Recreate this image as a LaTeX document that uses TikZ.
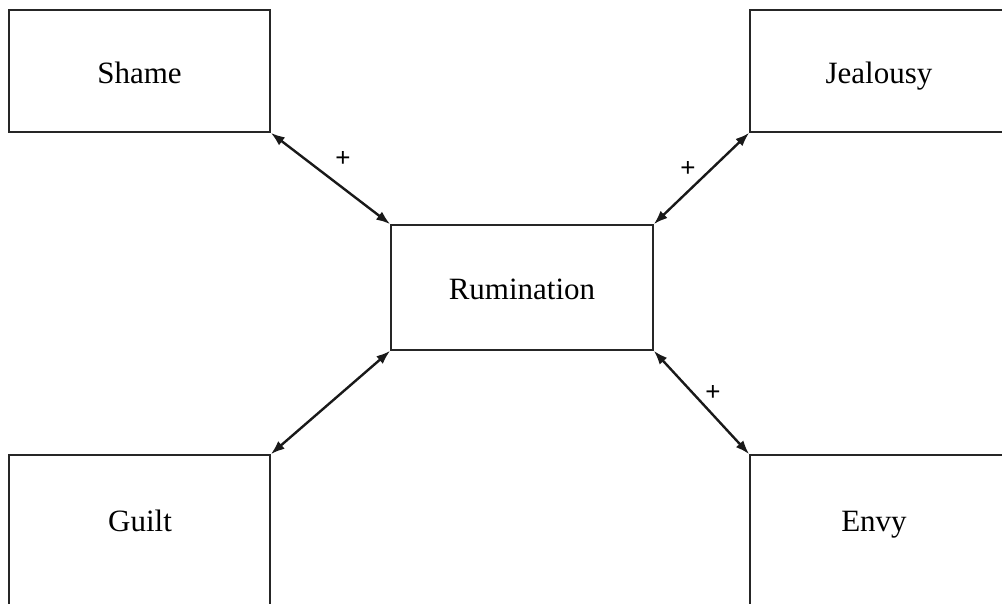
\documentclass[tikz,border=0pt]{standalone}
\usepackage{fontspec}
\setmainfont{Liberation Serif}
\newfontfamily\plusfont{Liberation Sans}
\usetikzlibrary{arrows.meta}
\begin{document}
\begin{tikzpicture}[x=0.5pt,y=-0.5pt,
  box/.style={draw=black!85, line width=0.8pt, rectangle, inner sep=0pt},
  lbl/.style={font=\fontsize{15.5}{18}\selectfont, inner sep=0pt, anchor=base},
  link/.style={draw=black!90, line width=1.2pt, {Latex[length=7pt,width=5pt]}-{Latex[length=7pt,width=5pt]}},
  plus/.style={font=\plusfont\fontsize{13}{15}\selectfont, inner sep=0pt}]
\useasboundingbox (0,0) rectangle (1002,604);
% boxes
\node[box, minimum width=130.5pt, minimum height=61pt] (shame) at (139.5,71) {};
\node[box, minimum width=128pt, minimum height=61pt] (jeal) at (878,71) {};
\node[box, minimum width=131pt, minimum height=62.5pt] (rum) at (522,287.5) {};
\node[box, minimum width=130.5pt, minimum height=100pt] (guilt) at (139.5,555) {};
\node[box, minimum width=128pt, minimum height=100pt] (envy) at (878,555) {};
% texts
\node[lbl] (shameT) at (139.5,84) {Shame};
\node[lbl] (jealT) at (879,84) {Jealousy};
\node[lbl] (rumT) at (522,300) {Rumination};
\node[lbl] (guiltT) at (140,531) {Guilt};
\node[lbl] (envyT) at (874,531) {Envy};
% connectors
\draw[link] (shame.south east) -- (rum.north west);
\draw[link] (jeal.south west) -- (rum.north east);
\draw[link] (guilt.north east) -- (rum.south west);
\draw[link] (envy.north west) -- (rum.south east);
% labels
\node[plus] (p1) at (343,159) {+};
\node[plus] (p2) at (688,169) {+};
\node[plus] (p3) at (713,393) {+};
\end{tikzpicture}
\end{document}
